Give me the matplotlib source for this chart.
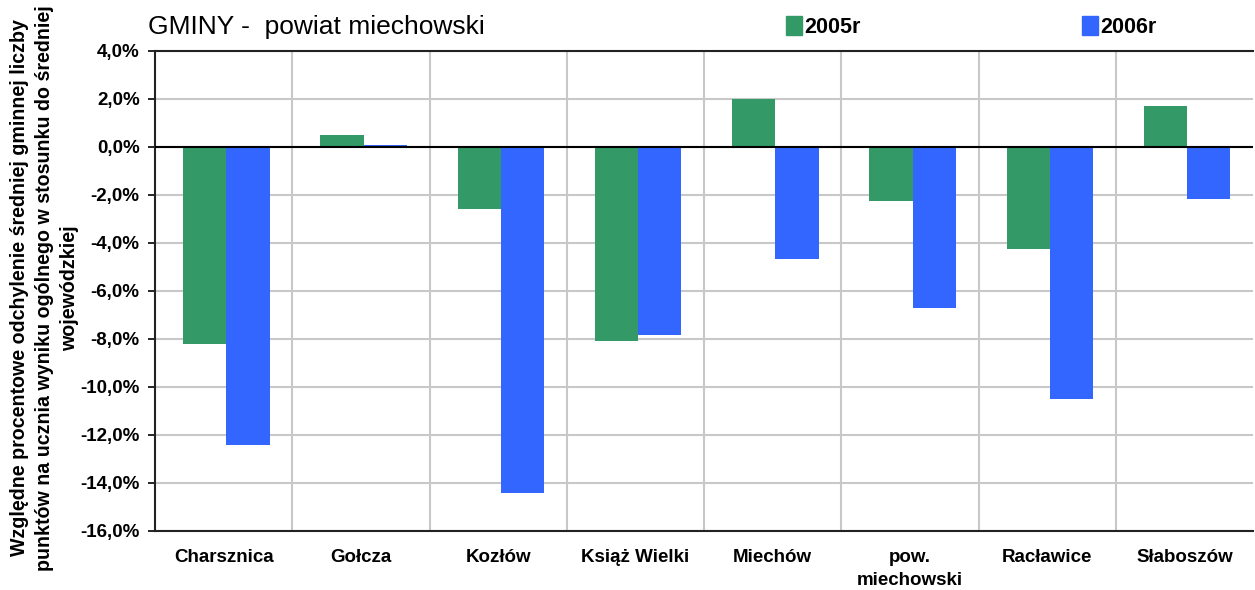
import numpy as np
import matplotlib
matplotlib.use("Agg")
import matplotlib.pyplot as plt
from matplotlib.patches import Patch
from matplotlib.ticker import FuncFormatter

# -----------------------------
# Data
# -----------------------------
categories = ["Charsznica", "Gołcza", "Kozłów", "Książ Wielki", "Miechów",
              "pow.\nmiechowski", "Racławice", "Słaboszów"]
y2005 = [-8.2, 0.5, -2.6, -8.1, 2.0, -2.25, -4.25, 1.7]
y2006 = [-12.4, 0.08, -14.4, -7.85, -4.65, -6.7, -10.5, -2.15]
series_labels = ["2005r", "2006r"]
title = "GMINY -  powiat miechowski"
ylabel = ("Względne procentowe odchylenie średniej gminnej liczby\n"
          "punktów na ucznia wyniku ogólnego w stosunku do średniej\n"
          "wojewódzkiej")

green = "#339966"
blue = "#3366FF"

plt.rcParams['font.family'] = ['Liberation Sans', 'DejaVu Sans']

# -----------------------------
# Plot
# -----------------------------
fig = plt.figure(figsize=(12.55, 5.9), dpi=100)
ax = fig.add_axes([155 / 1255, 1 - 531 / 590, 1098 / 1255, 480 / 590])

x = np.arange(len(categories))
w = 0.315
ax.bar(x - w / 2 + 0.02, y2005, w, color=green, zorder=3)
ax.bar(x + w / 2 + 0.02, y2006, w, color=blue, zorder=3)

ax.set_xlim(-0.5, len(categories) - 0.5)
ax.set_ylim(-16, 4)
ax.set_yticks(np.arange(-16, 4.1, 2))
ax.yaxis.set_major_formatter(FuncFormatter(lambda v, p: f"{v:.1f}%".replace(".", ",")))
ax.set_xticks(x)
ax.set_xticklabels(categories, fontweight="bold", fontsize=13.5, linespacing=1.45)
ax.set_xticks(np.arange(0.5, len(categories) - 0.5), minor=True)
for lbl in ax.get_yticklabels():
    lbl.set_fontweight("bold")
    lbl.set_fontsize(13.5)

ax.tick_params(axis="x", which="both", length=0, pad=13)
ax.tick_params(axis="y", length=5, width=1.2, color="black", pad=6)
ax.grid(axis="y", color="#c8c8c8", linewidth=1.5, zorder=0)
ax.grid(axis="x", which="minor", color="#c8c8c8", linewidth=1.5, zorder=0)
ax.axhline(0, color="black", linewidth=1.5, zorder=4)

for s in ["left", "top", "bottom"]:
    ax.spines[s].set_linewidth(1.5)
    ax.spines[s].set_color("#222222")
ax.spines["right"].set_visible(False)

# y axis title, three centred lines
fig.text(45 / 1255, 1 - 288 / 590, ylabel, rotation=90, fontweight="bold",
         fontsize=14.1, linespacing=1.4, ha="center", va="center",
         multialignment="center")

fig.text(148 / 1255, 1 - 27 / 590, title, fontsize=19, va="center", ha="left")

handles = [Patch(color=green), Patch(color=blue)]
fig.legend(handles, series_labels, loc="center left",
           bbox_to_anchor=(767 / 1255, 1 - 27 / 590), ncol=2, frameon=False,
           prop={"weight": "bold", "size": 15.5}, handlelength=0.72,
           handleheight=1.0, handletextpad=0.1, columnspacing=10.3)

fig.savefig("out.png", dpi=100)
